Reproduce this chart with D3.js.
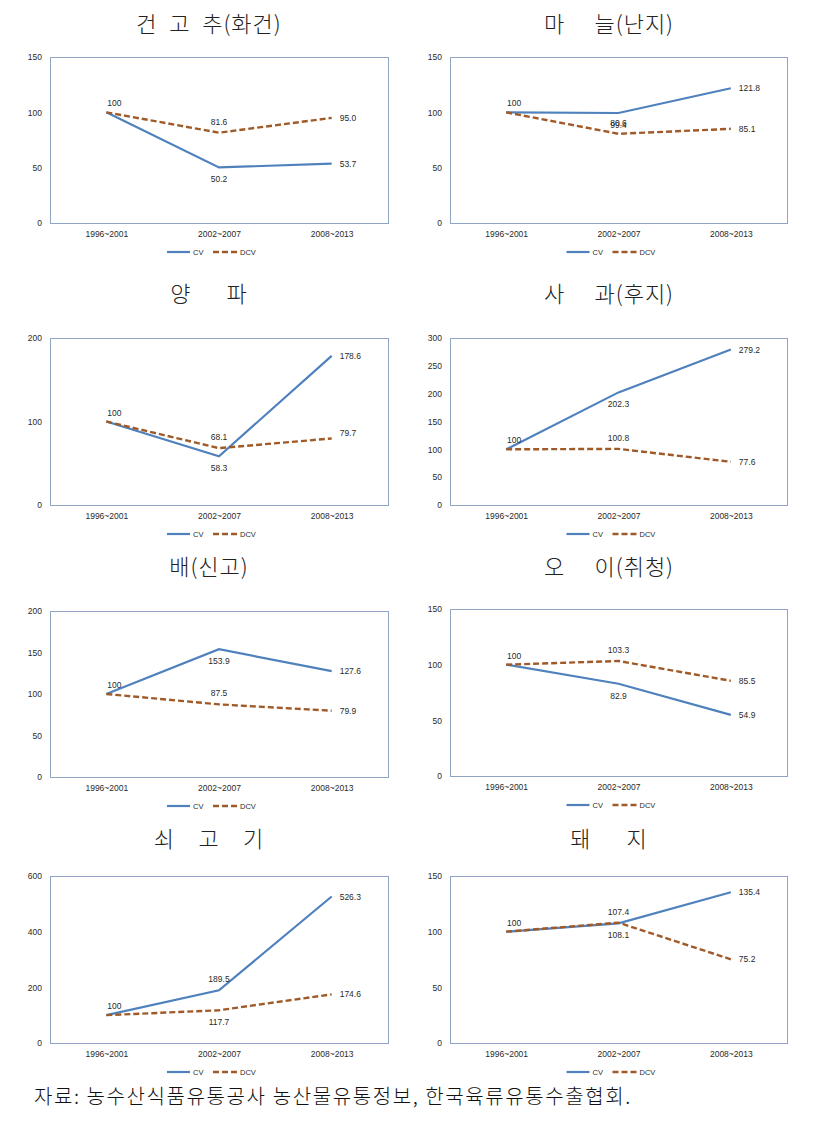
<!DOCTYPE html>
<html><head><meta charset="utf-8">
<script src="https://cdn.jsdelivr.net/npm/d3@7"></script>
<style>
html,body{margin:0;padding:0;background:#fff;}
svg{display:block;}
text{white-space:pre;}
</style></head>
<body>
<svg id="chart" width="831" height="1131"></svg>
<script>
// ---------- data ----------
const categories = ["1996~2001", "2002~2007", "2008~2013"];
const seriesNames = ["CV", "DCV"];
const titles = ["건  고  추(화건)", "마     늘(난지)", "양      파", "사     과(후지)",
                "배(신고)", "오     이(취청)", "쇠    고    기", "돼      지"];
const cvValues = [
  [100, 50.2, 53.7], [100, 99.4, 121.8], [100, 58.3, 178.6], [100, 202.3, 279.2],
  [100, 153.9, 127.6], [100, 82.9, 54.9], [100, 189.5, 526.3], [100, 107.4, 135.4]
];
const dcvValues = [
  [100, 81.6, 95.0], [100, 80.6, 85.1], [100, 68.1, 79.7], [100, 100.8, 77.6],
  [100, 87.5, 79.9], [100, 103.3, 85.5], [100, 117.7, 174.6], [100, 108.1, 75.2]
];
const yTickValues = [
  [0, 50, 100, 150], [0, 50, 100, 150], [0, 100, 200], [0, 50, 100, 150, 200, 250, 300],
  [0, 50, 100, 150, 200], [0, 50, 100, 150], [0, 200, 400, 600], [0, 50, 100, 150]
];
const footnote = "자료: 농수산식품유통공사 농산물유통정보, 한국육류유통수출협회.";

// ---------- layout (positions / label placement, not data) ----------
const cols = [{x0: 50, x1: 388, tx: 209}, {x0: 450, x1: 787, tx: 609}];
const rows = [
  {title: 22, boxes: [[57, 223], [57, 223]]},
  {title: 292, boxes: [[338, 505], [338, 505]]},
  {title: 565, boxes: [[611, 777], [609, 776]]},
  {title: 837, boxes: [[876, 1043], [876, 1043]]}
];
const cvPlace = [
  ["first", "below", "right"], ["first", "below", "right"], ["first", "below", "right"], ["first", "below", "right"],
  ["first", "below", "right"], ["first", "below", "right"], ["first", "above", "right"], ["first", "above", "right"]
];
const dcvPlace = [
  [null, "above", "right"], [null, "above", "right"], [null, "above", "rightup"], [null, "above", "right"],
  [null, "above", "right"], [null, "above", "right"], [null, "below", "right"], [null, "below", "right"]
];

const CV_COLOR = "#4F81BD";
const DCV_COLOR = "#A05A28";
const BORDER = "#8FA5C3";
const TXT = "#2a2a2a";
const NUM_FONT = "'Liberation Sans', Arial, sans-serif";
const KR_FONT = "'Noto Sans CJK KR', 'Noto Sans', sans-serif";

const svg = d3.select("#chart");

function fmt(v) { return v === 100 ? "100" : v.toFixed(1); }

titles.forEach((title, i) => {
  const r = rows[Math.floor(i / 2)];
  const c = cols[i % 2];
  const [top, bottom] = r.boxes[i % 2];
  const g = svg.append("g");

  g.append("text")
    .attr("x", c.tx).attr("y", r.title)
    .attr("text-anchor", "middle").attr("dominant-baseline", "central")
    .attr("font-family", KR_FONT).attr("font-size", 22).attr("font-weight", 300)
    .attr("letter-spacing", 1).attr("fill", "#222")
    .text(title);

  const ticks = yTickValues[i];
  const x = d3.scalePoint().domain(categories).range([c.x0, c.x1]).padding(0.5);
  const y = d3.scaleLinear().domain([0, d3.max(ticks)]).range([bottom, top]);

  g.append("rect")
    .attr("x", c.x0 + 0.5).attr("y", top + 0.5)
    .attr("width", c.x1 - c.x0).attr("height", bottom - top)
    .attr("fill", "none").attr("stroke", BORDER).attr("stroke-width", 1);

  const yAxis = d3.axisLeft(y).tickValues(ticks).tickSize(0).tickPadding(8).tickFormat(d3.format("d"));
  const ya = g.append("g").attr("transform", `translate(${c.x0},0)`).call(yAxis);
  ya.select(".domain").remove();
  ya.selectAll("text").attr("font-family", NUM_FONT).attr("font-size", 8.5).attr("fill", TXT);

  const xAxis = d3.axisBottom(x).tickSize(0).tickPadding(8);
  const xa = g.append("g").attr("transform", `translate(0,${bottom})`).call(xAxis);
  xa.select(".domain").remove();
  xa.selectAll("text").attr("font-family", NUM_FONT).attr("font-size", 8.5).attr("fill", TXT);

  const line = d3.line().x((d, k) => x(categories[k])).y(d => y(d));

  g.append("path").datum(cvValues[i]).attr("d", line)
    .attr("fill", "none").attr("stroke", CV_COLOR).attr("stroke-width", 2.2);
  g.append("path").datum(dcvValues[i]).attr("d", line)
    .attr("fill", "none").attr("stroke", DCV_COLOR).attr("stroke-width", 2.4)
    .attr("stroke-dasharray", "6,3");

  function addLabels(vals, places) {
    vals.forEach((v, k) => {
      const p = places[k];
      if (!p) return;
      const px = x(categories[k]), py = y(v);
      let tx = px, ty = py, anchor = "middle";
      if (p === "first") { tx = px + 8; ty = py - 9; }
      else if (p === "above") { ty = py - 11; }
      else if (p === "below") { ty = py + 12; }
      else if (p === "right") { tx = px + 8; ty = py; anchor = "start"; }
      else if (p === "rightup") { tx = px + 8; ty = py - 5; anchor = "start"; }
      g.append("text").attr("x", tx).attr("y", ty)
        .attr("text-anchor", anchor).attr("dominant-baseline", "central")
        .attr("font-family", NUM_FONT).attr("font-size", 8.5).attr("fill", TXT)
        .text(fmt(v));
    });
  }
  addLabels(cvValues[i], cvPlace[i]);
  addLabels(dcvValues[i], dcvPlace[i]);

  const ly = bottom + 29;
  const lx = (c.x0 + c.x1) / 2 - 52;
  const lg = g.append("g").attr("transform", `translate(${lx},${ly})`);
  lg.append("line").attr("x1", 0).attr("x2", 23).attr("y1", 0).attr("y2", 0)
    .attr("stroke", CV_COLOR).attr("stroke-width", 2.2);
  lg.append("text").attr("x", 26).attr("y", 0).attr("dominant-baseline", "central")
    .attr("font-family", NUM_FONT).attr("font-size", 7.5).attr("fill", TXT).text(seriesNames[0]);
  lg.append("line").attr("x1", 46).attr("x2", 70).attr("y1", 0).attr("y2", 0)
    .attr("stroke", DCV_COLOR).attr("stroke-width", 2.4).attr("stroke-dasharray", "6,3");
  lg.append("text").attr("x", 73).attr("y", 0).attr("dominant-baseline", "central")
    .attr("font-family", NUM_FONT).attr("font-size", 7.5).attr("fill", TXT).text(seriesNames[1]);
});

svg.append("text")
  .attr("x", 34).attr("y", 1095)
  .attr("dominant-baseline", "central")
  .attr("font-family", KR_FONT).attr("font-size", 20).attr("font-weight", 300)
  .attr("letter-spacing", 1.6).attr("fill", "#111")
  .text(footnote);
</script>
</body></html>
